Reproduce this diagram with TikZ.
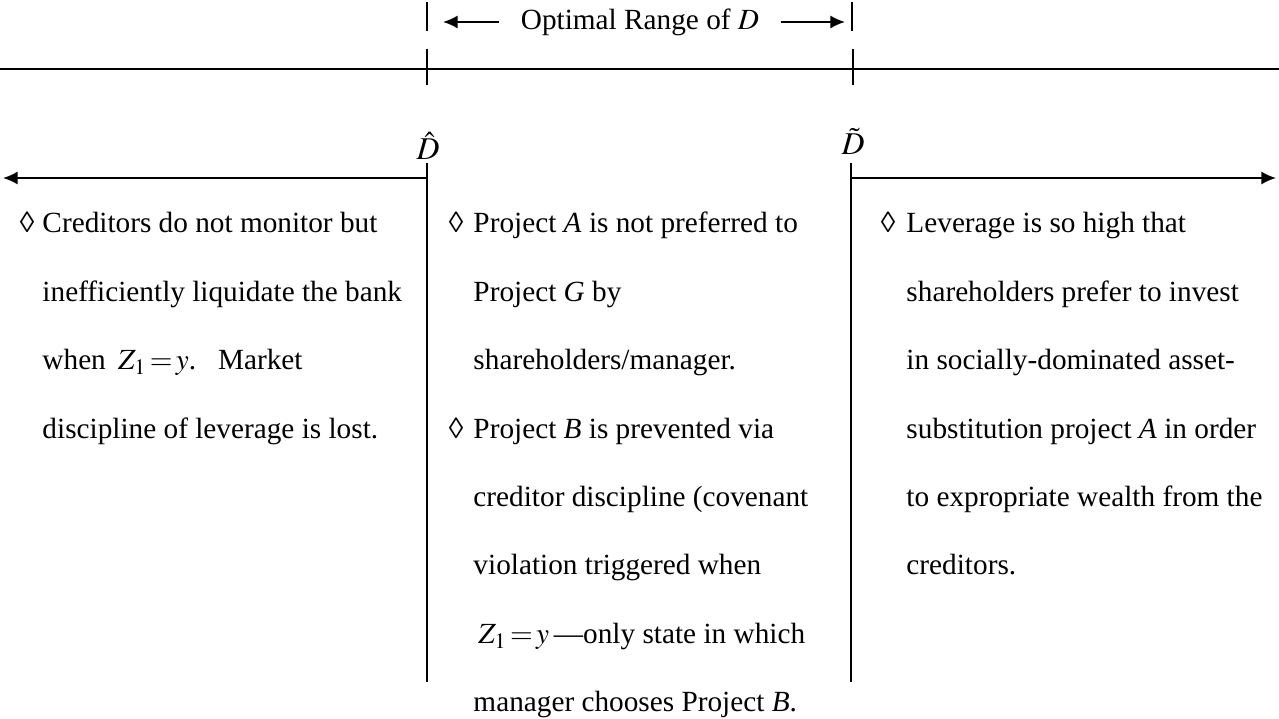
\documentclass[tikz,border=0pt]{standalone}
\usepackage{mathptmx}
\usepackage[no-math]{fontspec}
\setmainfont{Liberation Serif}
\usetikzlibrary{arrows.meta}

\tikzset{
  txt/.style={anchor=base west, inner sep=0pt, font=\fontsize{12}{14}\selectfont},
  bul/.style={anchor=base, inner sep=0pt, font=\fontsize{12}{14}\selectfont},
  thr/.style={anchor=base, inner sep=0pt, font=\fontsize{13}{15}\selectfont},
  rule/.style={line width=0.82pt},
  arr/.style={rule, -{Latex[length=6pt,width=5.4pt]}},
}
\newcommand{\zeqy}{$Z_1\!=\!y$}

\begin{document}
\begin{tikzpicture}[x=0.41pt,y=-0.41pt]
  \useasboundingbox (0,0) rectangle (1279,719);

  % Optimal range of D
  \coordinate (rangeTL) at (427,2);
  \coordinate (rangeBL) at (427,31);
  \coordinate (rangeTR) at (852,2);
  \coordinate (rangeBR) at (852,31);
  \draw[rule] (rangeTL) -- (rangeBL);
  \draw[rule] (rangeTR) -- (rangeBR);
  \node[font=\fontsize{12}{14}\selectfont, inner sep=8.6pt] (range) at (640,22) {Optimal Range of $D$};
  \coordinate (tipL) at (443,22);
  \coordinate (tipR) at (845,22);
  \draw[arr] (range.west) -- (tipL);
  \draw[arr] (range.east) -- (tipR);

  % Axis with ticks
  \coordinate (axisL) at (0,69);
  \coordinate (axisR) at (1279,69);
  \draw[rule] (axisL) -- (axisR);
  \coordinate (tickTL) at (427,49);
  \coordinate (tickBL) at (427,85);
  \coordinate (tickTR) at (853,49);
  \coordinate (tickBR) at (853,85);
  \draw[rule] (tickTL) -- (tickBL);
  \draw[rule] (tickTR) -- (tickBR);

  % Thresholds
  \node[thr] (dhat) at (428,160) {$\hat{D}$};
  \node[thr] (dtilde) at (853,155) {$\tilde{D}$};

  \coordinate (hatTop) at (427,163);
  \coordinate (hatJoin) at (427,178);
  \coordinate (hatBot) at (427,682);
  \coordinate (farL) at (3,178);
  \draw[rule] (hatTop) -- (hatBot);
  \draw[arr] (hatJoin) -- (farL);

  \coordinate (tilTop) at (851,163);
  \coordinate (tilJoin) at (851,178);
  \coordinate (tilBot) at (851,682);
  \coordinate (farR) at (1276,178);
  \draw[rule] (tilTop) -- (tilBot);
  \draw[arr] (tilJoin) -- (farR);

  % Left region
  \node[bul] (bl0) at (27,233) {◊};
  \foreach \ltxt [count=\i from 0] in {Creditors do not monitor but,
      inefficiently liquidate the bank,
      {when \,\zeqy.\ \ \ Market},
      discipline of leverage is lost.}
    \node[txt] (lt\i) at (42,{233+68.4*\i}) {\ltxt};

  % Middle region
  \node[bul] (bm0) at (456,233) {◊};
  \node[bul] (bm1) at (456,438.2) {◊};
  \foreach \mtxt [count=\i from 0] in {{Project \textit{A} is not preferred to},
      {Project \textit{G} by},
      {shareholders/manager.},
      {Project \textit{B} is prevented via},
      {creditor discipline (covenant},
      {violation triggered when},
      {\,\zeqy\,---only state in which},
      {manager chooses Project \textit{B}.}}
    \node[txt] (mt\i) at (473,{233+68.4*\i}) {\mtxt};

  % Right region
  \node[bul] (br0) at (888,233) {◊};
  \foreach \rtxt [count=\i from 0] in {Leverage is so high that,
      shareholders prefer to invest,
      in socially-dominated asset-,
      {substitution project \textit{A} in order},
      to expropriate wealth from the,
      creditors.}
    \node[txt] (rt\i) at (906,{233+68.4*\i}) {\rtxt};
\end{tikzpicture}
\end{document}
